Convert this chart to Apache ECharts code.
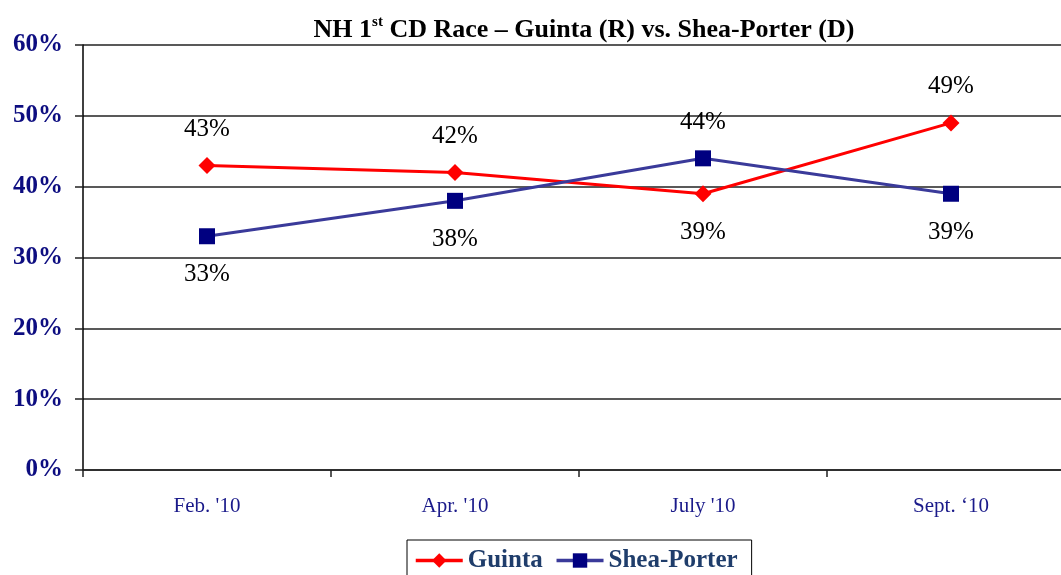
<!DOCTYPE html>
<html>
<head>
<meta charset="utf-8">
<script src="https://cdn.jsdelivr.net/npm/echarts@6/dist/echarts.min.js"></script>
<style>
html,body{margin:0;padding:0;background:#fff;}
#chart{width:1061px;height:575px;}
</style>
</head>
<body>
<div id="chart"></div>
<script>
const categories = ["Feb. '10", "Apr. '10", "July '10", "Sept. \u201810"];
const guinta = [43, 42, 39, 49];
const sheaPorter = [33, 38, 44, 39];
const yTicks = [0, 10, 20, 30, 40, 50, 60];

const FONT = '"Liberation Serif", "DejaVu Serif", serif';

function withLabels(values, other) {
  return values.map((v, i) => {
    const above = v > other[i];
    return {
      value: v,
      label: { position: above ? 'top' : 'bottom', distance: above ? 15 : 18 }
    };
  });
}

const chart = echarts.init(document.getElementById('chart'), null, {renderer: 'canvas'});
chart.setOption({
  animation: false,
  backgroundColor: '#fff',
  title: {
    text: '{a|NH 1}{s|st}{a| CD Race \u2013 Guinta (R) vs. Shea-Porter (D)}',
    left: 579,
    textAlign: 'center',
    top: 10,
    textStyle: {
      rich: {
        a: { fontFamily: FONT, fontWeight: 'bold', fontSize: 26, color: '#000' },
        s: { fontFamily: FONT, fontWeight: 'bold', fontSize: 15, color: '#000', padding: [0, 0, 16, 0] }
      }
    }
  },
  legend: {
    left: 407,
    top: 540,
    padding: [8, 14, 10, 7],
    borderColor: '#000',
    borderWidth: 1,
    itemWidth: 47,
    itemHeight: 18,
    itemGap: 12,
    lineStyle: { width: 3.5 },
    textStyle: { fontFamily: FONT, fontWeight: 'bold', fontSize: 25, color: '#1F3D6B' },
    data: ['Guinta', 'Shea-Porter']
  },
  grid: { left: 83, top: 45, width: 992, bottom: 105, containLabel: false, outerBoundsMode: 'none' },
  xAxis: {
    type: 'category',
    data: categories,
    boundaryGap: true,
    axisLine: { lineStyle: { color: '#222', width: 1.5 } },
    axisTick: { show: true, length: 7, alignWithLabel: false, lineStyle: { color: '#222', width: 1.5 } },
    axisLabel: { fontFamily: FONT, fontSize: 21, color: '#1a1a8a', margin: 26 },
    splitLine: { show: false }
  },
  yAxis: {
    type: 'value',
    min: yTicks[0],
    max: yTicks[yTicks.length - 1],
    interval: 10,
    axisLine: { show: true, lineStyle: { color: '#000', width: 1.5 } },
    axisTick: { show: true, length: 8, lineStyle: { color: '#222', width: 1.5 } },
    axisLabel: { formatter: '{value}%', fontFamily: FONT, fontWeight: 'bold', fontSize: 25, color: '#0d0d80', margin: 20 },
    splitLine: { show: true, lineStyle: { color: '#222', width: 1.5 } }
  },
  series: [
    {
      name: 'Guinta',
      type: 'line',
      data: withLabels(guinta, sheaPorter),
      symbol: 'diamond',
      symbolSize: 17,
      lineStyle: { color: '#ff0000', width: 3 },
      itemStyle: { color: '#ff0000' },
      label: { show: true, formatter: '{c}%', fontFamily: FONT, fontSize: 25, color: '#000' }
    },
    {
      name: 'Shea-Porter',
      type: 'line',
      data: withLabels(sheaPorter, guinta),
      symbol: 'rect',
      symbolSize: 16,
      lineStyle: { color: '#3a3a9a', width: 3 },
      itemStyle: { color: '#000080' },
      label: { show: true, formatter: '{c}%', fontFamily: FONT, fontSize: 25, color: '#000' }
    }
  ]
});
</script>
</body>
</html>
